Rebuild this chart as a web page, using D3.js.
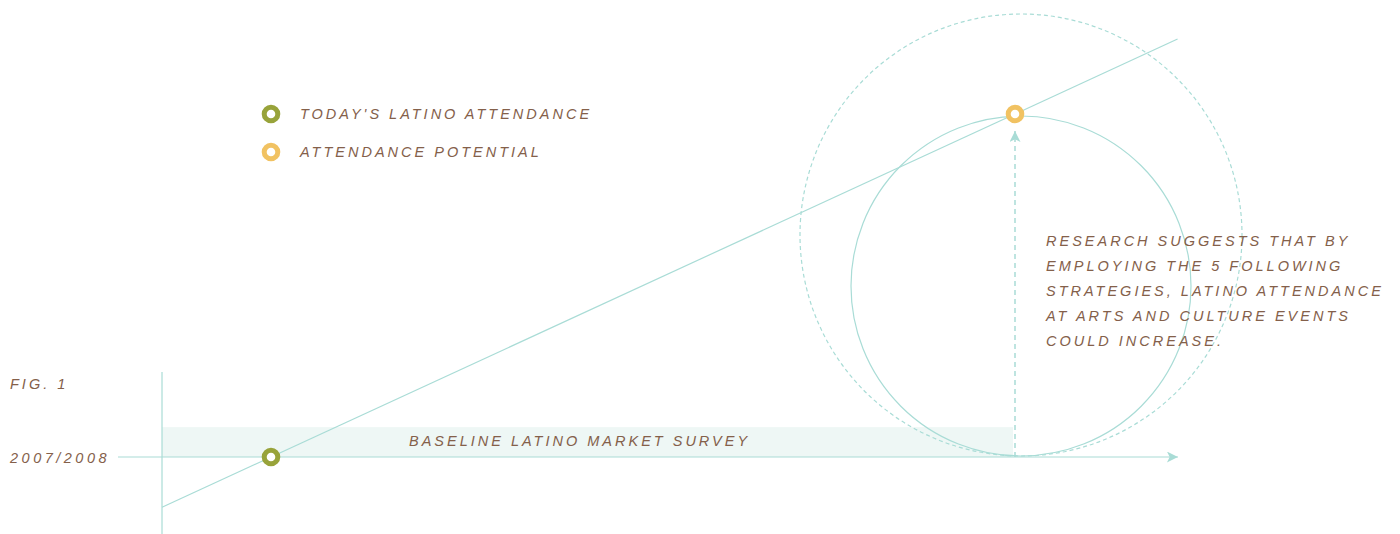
<!DOCTYPE html>
<html><head><meta charset="utf-8">
<script src="https://cdn.jsdelivr.net/npm/d3@7"></script>
<style>
html,body{margin:0;padding:0;background:#fff;}
text{font-family:"Liberation Sans",Arial,sans-serif;font-style:italic;fill:#84604a;font-size:14.5px;letter-spacing:3px;}
</style></head>
<body><svg id="c" width="1400" height="534"></svg>
<script>
// Data
const seriesNames = ["TODAY'S LATINO ATTENDANCE", "ATTENDANCE POTENTIAL"];
const seriesColors = ["#98a33a", "#f1c262"];
const seriesX = [0, 1];        // 0 = today (2007/2008), 1 = potential
const seriesY = [0, 1];        // relative attendance level
const yearLabels = ["2007/2008"];
const figLabel = ["FIG. 1"];
const bandLabel = ["BASELINE LATINO MARKET SURVEY"];
const noteLines = ["RESEARCH SUGGESTS THAT BY","EMPLOYING THE 5 FOLLOWING","STRATEGIES, LATINO ATTENDANCE","AT ARTS AND CULTURE EVENTS","COULD INCREASE."];

const svg = d3.select("#c");
const teal = "#a9dcd6";
const x = d3.scaleLinear().domain([0,1]).range([271,1015]);
const y = d3.scaleLinear().domain([0,1]).range([457,114]);

const defs = svg.append("defs");
defs.append("marker").attr("id","ah").attr("viewBox","0 0 10 10").attr("refX",10).attr("refY",5)
  .attr("markerWidth",17).attr("markerHeight",11).attr("markerUnits","userSpaceOnUse").attr("orient","auto")
  .append("path").attr("d","M0,0 L10,5 L0,10 L2.5,5 Z").attr("fill",teal);

// band
svg.append("rect").attr("x",x(-0.1465)).attr("y",y(0.087)).attr("width",x(1)-x(-0.1465)-2).attr("height",y(0)-y(0.087))
  .attr("fill","#eef7f5");

// axes
svg.append("line").attr("x1",118).attr("x2",x(1.219)).attr("y1",y(0)).attr("y2",y(0))
  .attr("stroke",teal).attr("stroke-width",1.2).attr("marker-end","url(#ah)");
svg.append("line").attr("x1",x(-0.1465)).attr("x2",x(-0.1465)).attr("y1",372).attr("y2",534)
  .attr("stroke",teal).attr("stroke-width",1.2);

// trend line
const slope = (y(seriesY[1])-y(seriesY[0]))/(x(seriesX[1])-x(seriesX[0]));
const lx1 = x(-0.1465), lx2 = x(1.2185);
svg.append("line").attr("x1",lx1).attr("y1",y(0)+slope*(lx1-x(0))).attr("x2",lx2).attr("y2",y(0)+slope*(lx2-x(0)))
  .attr("stroke",teal).attr("stroke-width",1.2);

// circles
svg.append("circle").attr("cx",x(1)+6).attr("cy",286).attr("r",170)
  .attr("fill","none").attr("stroke",teal).attr("stroke-width",1.2);
svg.append("circle").attr("cx",x(1)+6).attr("cy",235).attr("r",221)
  .attr("fill","none").attr("stroke",teal).attr("stroke-width",1.2).attr("stroke-dasharray","4,3");

// dashed arrow
svg.append("line").attr("x1",x(1)).attr("x2",x(1)).attr("y1",y(0)).attr("y2",y(1)+17)
  .attr("stroke",teal).attr("stroke-width",1.5).attr("stroke-dasharray","5,4").attr("marker-end","url(#ah)");

// points
svg.selectAll(".pt").data(seriesX).join("circle").attr("class","pt")
  .attr("cx",(d)=>x(d)).attr("cy",(d,i)=>y(seriesY[i])).attr("r",6.8)
  .attr("fill","#fff").attr("stroke",(d,i)=>seriesColors[i]).attr("stroke-width",5);

// legend
const lg = svg.selectAll(".lg").data(seriesNames).join("g").attr("class","lg")
  .attr("transform",(d,i)=>`translate(271,${114+i*38})`);
lg.append("circle").attr("r",6.8).attr("fill","#fff").attr("stroke",(d,i)=>seriesColors[i]).attr("stroke-width",5);
lg.append("text").attr("x",29).attr("y",5).text(d=>d);

// labels
svg.append("text").attr("x",10).attr("y",389).text(figLabel[0]);
svg.append("text").attr("x",10).attr("y",463).style("letter-spacing","3.5px").text(yearLabels[0]);
svg.append("text").attr("x",409).attr("y",446).text(bandLabel[0]);
svg.append("g").selectAll("text").data(noteLines).join("text")
  .attr("x",1046).attr("y",(d,i)=>246+i*25).text(d=>d);
</script></body></html>
